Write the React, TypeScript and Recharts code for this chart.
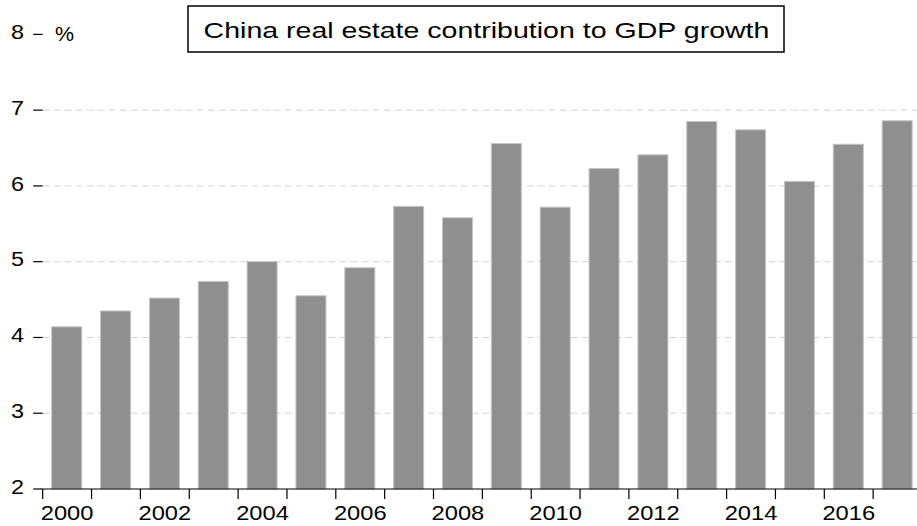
import { BarChart, Bar, XAxis, YAxis, CartesianGrid } from 'recharts'

const years = [
  '2000', '2001', '2002', '2003', '2004', '2005', '2006', '2007', '2008',
  '2009', '2010', '2011', '2012', '2013', '2014', '2015', '2016', '2017',
]
const contribution = [
  4.14, 4.35, 4.52, 4.74, 5.0, 4.55, 4.92, 5.73, 5.58,
  6.56, 5.72, 6.23, 6.41, 6.85, 6.74, 6.06, 6.55, 6.86,
]
const yTicks = [2, 3, 4, 5, 6, 7, 8]
const gridValues = [3, 4, 5, 6, 7]
const title = 'China real estate contribution to GDP growth'
const unitLabel = '%'

const CHART_W = 922
const CHART_H = 526
const Y_AXIS_W = 42.7
const X_AXIS_H = 37
const TOP = 34.4
const FONT = 'Arial, "Liberation Sans", sans-serif'

const data = years.map((year, i) => ({ year, value: contribution[i] }))

function XTick(props: any) {
  const { x, payload } = props
  // ticks sit on category boundaries, labels on every other year
  const band = (CHART_W - Y_AXIS_W) / years.length
  const left = Number(x) - band / 2
  const axisY = CHART_H - X_AXIS_H
  const showLabel = Number(payload.value) % 2 === 0
  return (
    <g>
      <line x1={left} x2={left} y1={axisY} y2={axisY + 10} stroke="#000" strokeWidth={1.2} />
      {showLabel && (
        <text
          transform={`translate(${x},${axisY + 31}) scale(1.215,1)`}
          textAnchor="middle"
          fontSize={19.5}
          fontFamily={FONT}
          fill="#000"
        >
          {payload.value}
        </text>
      )}
    </g>
  )
}

function YTick(props: any) {
  const { y, payload } = props
  return (
    <text
      transform={`translate(24,${Number(y) + 4.7}) scale(1.2,1)`}
      textAnchor="end"
      fontSize={19.5}
      fontFamily={FONT}
      fill="#000"
    >
      {payload.value}
    </text>
  )
}

export default function App() {
  return (
    <div
      style={{
        position: 'absolute',
        left: 0,
        top: 0,
        width: 917,
        height: 526,
        overflow: 'hidden',
        background: '#fff',
      }}
    >
      <BarChart
        width={CHART_W}
        height={CHART_H}
        data={data}
        margin={{ top: TOP, right: 0, left: 0, bottom: 0 }}
      >
        <CartesianGrid
          vertical={false}
          horizontalValues={gridValues}
          stroke="#d4d4d4"
          strokeDasharray="7 4"
        />
        <XAxis
          dataKey="year"
          interval={0}
          height={X_AXIS_H}
          tickLine={false}
          axisLine={{ stroke: '#000', strokeWidth: 1.2 }}
          tick={(p: any) => <XTick {...p} />}
        />
        <YAxis
          type="number"
          domain={[2, 8]}
          ticks={yTicks}
          width={Y_AXIS_W}
          axisLine={false}
          tickLine={{ stroke: '#000', strokeWidth: 1.2 }}
          tickSize={9.5}
          tick={(p: any) => <YTick {...p} />}
        />
        <Bar
          dataKey="value"
          barSize={30}
          fill="#8f8f8f"
          stroke="#c4c4c4"
          strokeWidth={1}
          isAnimationActive={false}
        />
      </BarChart>
      <svg
        width={917}
        height={526}
        style={{ position: 'absolute', left: 0, top: 0, pointerEvents: 'none' }}
      >
        <text
          transform="translate(55,41) scale(1.1,1)"
          fontSize={19.5}
          fontFamily={FONT}
          fill="#000"
        >
          {unitLabel}
        </text>
        <rect x={188} y={6} width={596} height={46} fill="#fff" stroke="#000" strokeWidth={1.5} />
        <text
          transform="translate(486.5,38) scale(1.28,1)"
          textAnchor="middle"
          fontSize={22.3}
          fontFamily={FONT}
          fill="#000"
        >
          {title}
        </text>
      </svg>
    </div>
  )
}
